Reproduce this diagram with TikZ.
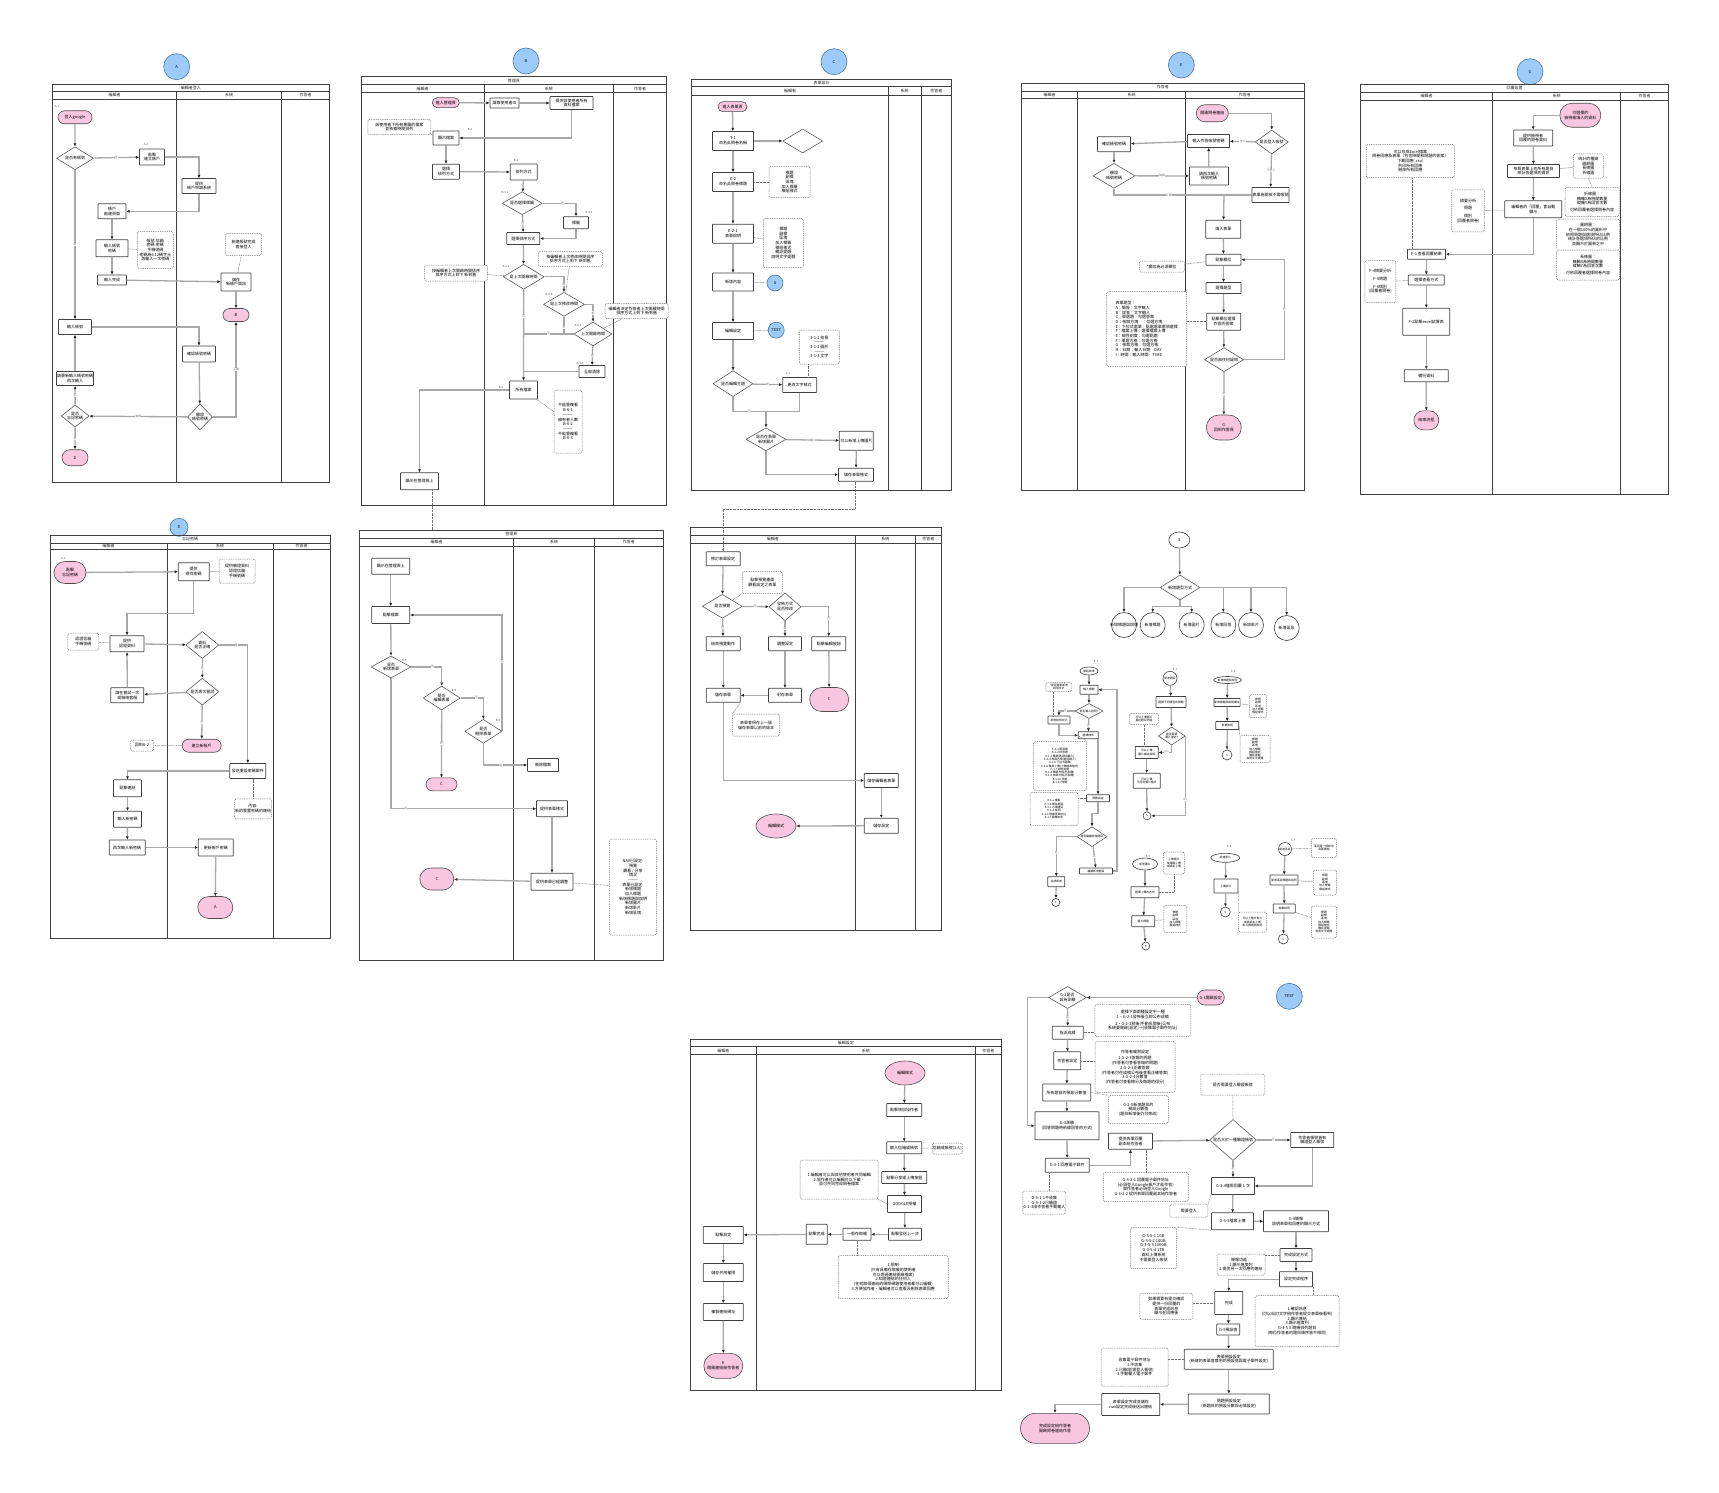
\documentclass[tikz,border=0pt]{standalone}
\usepackage{fontspec}
\setmainfont{Noto Sans CJK TC}
\usetikzlibrary{arrows.meta,shapes.geometric,shapes.misc}
\definecolor{cpink}{HTML}{F9C6DF}
\definecolor{cblue}{HTML}{9CCBFA}
\definecolor{cbluedk}{HTML}{4A78A8}
\definecolor{lgray}{HTML}{A8A8A8}
\newcommand\tinyf{\fontsize{4}{4.7}\selectfont}
\newcommand\microf{\fontsize{2.8}{3.3}\selectfont}
\newcommand\swimlane[9]{%
 \draw[lane] (#1,#2) rectangle (#3,#4);
 \draw[lane] (#1,#5) -- (#3,#5);
 \draw[lane] (#1,#6) -- (#3,#6);
 \draw[lane] (#7,#5) -- (#7,#4);
 \draw[lane] (#8,#5) -- (#8,#4);
 \path ({(#1+#3)/2},{(#2+#5)/2}) node[hdr] {#9};
 \path ({(#1+#7)/2},{(#5+#6)/2}) node[hdr] {編輯者};
 \path ({(#7+#8)/2},{(#5+#6)/2}) node[hdr] {系統};
 \path ({(#8+#3)/2},{(#5+#6)/2}) node[hdr] {作答者};
}
\begin{document}
\begin{tikzpicture}[x=1pt,y=-1pt,
 sz/.style 2 args={minimum width=#1, minimum height=#2},
 box/.style={rectangle, draw=black!75, line width=0.7pt, fill=white, align=center, inner sep=0.5pt, font=\tinyf, rounded corners=0.5pt},
 dia/.style={diamond, draw=black!65, line width=0.6pt, fill=white, align=center, inner sep=0pt, aspect=1.6, font=\tinyf},
 term/.style={rounded rectangle, draw=black!70, line width=0.6pt, fill=cpink, align=center, inner sep=0.5pt, font=\tinyf},
 pell/.style={ellipse, draw=black!70, line width=0.6pt, fill=cpink, align=center, inner sep=0pt, font=\tinyf},
 bc/.style={circle, draw=cbluedk, line width=0.6pt, fill=cblue, inner sep=0pt, minimum size=26, font=\tinyf},
 note/.style={rectangle, draw=black!55, line width=0.5pt, dash pattern=on 1pt off 0.8pt, rounded corners=1.5pt, fill=white, align=center, inner sep=0.5pt, font=\tinyf},
 wcirc/.style={circle, draw=black!75, line width=0.6pt, fill=white, inner sep=0pt, font=\tinyf},
 well/.style={ellipse, draw=black!75, line width=0.6pt, fill=white, inner sep=0pt, align=center, font=\tinyf},
 ln0/.style={draw=lgray, line width=1.3pt},
 ln/.style={ln0, -{Latex[length=3.2pt,width=3pt,color=black!85]}},
 dt/.style={draw=black!55, line width=0.5pt, dash pattern=on 0.7pt off 0.7pt},
 lane/.style={draw=black!75, line width=0.9pt},
 hdr/.style={font=\tinyf, text=black!85, inner sep=0},
 lb/.style={font=\microf, fill=white, inner sep=0.3pt, text=black!55},
 tg/.style={font=\microf, text=black!65, inner sep=0},
 mf/.style={font=\microf},
]
\fill[white] (0,0) rectangle (1719,1493);
\useasboundingbox (0,0) rectangle (1719,1493);

%% ================= Panel A =================
\node[bc] (cA) at (176.7,66.7) {A};
\swimlane{52.3}{84}{329.3}{482.7}{91.7}{99}{176.7}{281.7}{編輯者登入}
\node[tg] (tA1) at (57,106) {A-1};
\node[term, sz={35}{13}] (a1) at (75,117.3) {登入google};
\node[dia, sz={37}{23}] (a2) at (75,158.3) {是否有帳號};
\node[box, sz={25}{16}] (a3) at (152,157) {點擊\\建立帳戶};
\node[tg] (tA2) at (146,144) {A-2};
\node[box, sz={34}{15}] (a4) at (199,186) {提供\\帳戶申請系統};
\node[box, sz={28}{15}] (a5) at (112,211.3) {帳戶\\創建頁面};
\node[box, sz={32}{17}] (a6) at (112,248.3) {輸入帳號\\密碼};
\node[note, sz={36}{37}] (a6n) at (155.3,250) {帳號:信箱\\密碼:密碼\\手機號碼\\密碼為6~12碼字元\\再輸入一次密碼};
\node[box, sz={29}{10}] (a7) at (112,280) {輸入完成};
\node[box, sz={30}{18}] (a8) at (236,282) {儲存\\新帳戶資訊};
\node[note, sz={36}{22}] (a8n) at (243.5,244.5) {創建帳號完成\\直接登入};
\node[term, sz={27}{13}] (aB) at (236,315) {B};
\node[box, sz={33}{15}] (a9) at (75,327) {輸入帳號};
\node[box, sz={33}{16}] (a10) at (199,354) {確認帳號密碼};
\node[box, sz={37}{14}] (a11) at (75,378.5) {請重新輸入帳號密碼\\再次輸入};
\node[dia, aspect=1.3, sz={28}{22}] (a12) at (75.2,416) {是否\\忘記密碼};
\node[dia, aspect=1, sz={25}{26}] (a13) at (200,417) {驗證\\帳號密碼};
\node[term, sz={27}{16}] (aD) at (75,457.7) {D};
\draw[ln] (a1) -- (a2);
\draw[ln] (a2) -- node[lb]{否} (a3);
\draw[ln] (a3.east) -| (a4.north);
\draw[ln] (a4.south) |- (a5.east);
\draw[ln] (a5) -- (a6);
\draw[ln] (a6) -- (a7);
\draw[ln] (a7) -- (a8);
\draw[ln] (a8) -- (aB);
\draw[dt] (a6n) -- (a6);
\draw[dt] (a8n) -- (a8);
\draw[ln] (a2) -- node[lb]{是} (a9);
\draw[ln] (a9.east) -| (a10.north);
\draw[ln] (a10) -- (a13);
\draw[ln] (a13) -- node[lb]{錯誤} (a12);
\draw[ln] (a13.east) -| node[lb,pos=0.75]{正確} (aB.south);
\draw[ln] (a12) -- node[lb]{否} (a11);
\draw[ln] (a11) -- (a9);
\draw[ln] (a12) -- node[lb]{是} (aD);

%% ================= Panel B =================
\node[bc] (cB) at (526,61) {B};
\swimlane{361}{76.7}{666.7}{505}{84.3}{92.7}{484.3}{613.3}{管理頁}
\node[term, sz={28}{10}] (b1) at (445.8,102.7) {進入管理頁};
\node[box, sz={29}{10}] (b2) at (504.5,103) {讀取使用者ID};
\node[box, sz={43}{13}] (b3) at (571.5,103) {提供該使用者所有\\資料檔案};
\node[box, sz={26}{14}] (b4) at (446,138) {顯示檔案};
\node[tg] (tB4) at (470,129) {B-4};
\node[note, sz={63}{15}] (b4n) at (399.3,127) {該使用者下所有專屬的檔案\\並依據時間排列};
\node[box, sz={27}{15}] (b5) at (446,171.7) {選擇\\排列方式};
\node[box, sz={27}{16}] (b6) at (523.7,172) {排列方式};
\node[tg] (tB5) at (516,160) {B-5};
\node[dia, sz={40}{23}] (b7) at (522.2,203.3) {是否選擇標籤};
\node[tg] (tB51) at (505,192) {B-5-1};
\node[box, sz={25}{12}] (b8) at (576,222.7) {標籤};
\node[tg] (tB52) at (589,212) {B-5-2};
\node[box, sz={33}{12}] (b9) at (523.3,238.5) {選擇排序方式};
\node[dia, sz={41}{25}] (b10) at (523.7,276.8) {是上次開啟時間};
\node[tg] (tB61) at (506,266) {B-6-1};
\node[note, sz={63}{16}] (b10n) at (456,273) {按編輯者上次開啟時間排序\\排序方式上到下 新到舊};
\node[dia, sz={41}{24}] (b11) at (564,304.3) {是上次修改時間};
\node[tg] (tB62) at (549,294) {B-6-2};
\node[note, sz={64}{15}] (b11n) at (570.3,259) {按編輯者上次修改時間排序\\排序方式上到下 新到舊};
\node[dia, sz={38}{24}] (b12) at (593,334) {上次開啟時間};
\node[tg] (tB63) at (578,325) {B-6-3};
\node[note, sz={63}{15}] (b12n) at (636.7,311) {編輯者決定作答者上次開啟時間\\排序方式上到下 新到舊};
\node[box, sz={26}{12}] (b13) at (592,371.5) {全部清除};
\node[tg] (tB64) at (580,363) {B-6-4};
\node[box, sz={28}{18}] (b14) at (523.5,390) {所有檔案};
\node[tg] (tB6) at (501,387) {B-6};
\node[note, sz={28}{63}] (b14n) at (568,421.7) {不能重複看\\B-6-1\\———\\擁有者人數\\B-6-2\\———\\不能重複看\\B-6-3};
\node[box, sz={38}{17}] (b15) at (419.5,481.3) {顯示在管理頁上};
\coordinate (bj) at (523.5,334);
\draw[ln] (b1) -- (b2);
\draw[ln] (b2) -- (b3);
\draw[ln] (b3.south) |- (b4.east);
\draw[ln] (b4) -- (b5);
\draw[ln] (b5) -- (b6);
\draw[ln] (b6) -- (b7);
\draw[ln] (b7.east) -| node[lb,pos=0.3]{是} (b8.north);
\draw[ln] (b7) -- node[lb]{否} (b9);
\draw[ln] (b8.south) |- (b9.east);
\draw[ln] (b9) -- (b10);
\draw[ln] (b10.east) -| node[lb,pos=0.75]{是} (b11.north);
\draw[ln] (b11.east) -| node[lb,pos=0.75]{是} (b12.north);
\draw[ln] (b12) -- node[lb]{是} (b13);
\draw[ln] (b10) -- node[lb,pos=0.3]{否} (b14);
\draw[ln0] (b11.south) |- node[lb,pos=0.3]{否} (bj);
\draw[ln0] (b12.west) -- node[lb]{否} (bj);
\draw[ln0] (b13.west) -- (b13.west -| b14.north);
\draw[ln] (b14.west) -| (b15.north);
\draw[dt] (b4n) -- (b4);
\draw[dt] (b10n) -- (b10);
\draw[dt] (b11n) -- (b11);
\draw[dt] (b12n) -- (b12);
\draw[dt] (b14n) -- (b14);
\coordinate (bdn) at (432.7,530);
\draw[dt] (b15.south -| bdn) -- (bdn);

%% ================= Panel C =================
\node[bc] (cC) at (834,61.7) {C};
\swimlane{691.7}{79.3}{951.7}{490}{86}{95}{888.3}{921}{表單設計}
\node[term, sz={30}{10}] (c1) at (732.5,106.7) {進入表單頁};
\node[box, sz={41}{19}] (c2) at (733,141) {T-1\\命名此問卷名稱};
\node[dia, sz={40}{24}] (c2d) at (802.7,141) {};
\node[box, sz={41}{19}] (c3) at (733,182) {E-2\\命名此問卷標題};
\node[note, sz={41}{31}] (c3n) at (789.7,182) {標題\\副標\\區塊\\加入標籤\\模組樣式};
\node[box, sz={41}{19}] (c4) at (733,233.7) {E-2-1\\表單說明};
\node[note, sz={40}{49}] (c4n) at (783.3,243) {標題\\副標\\區塊\\加入標籤\\模組樣式\\備註提醒\\說明文字提醒};
\node[box, sz={41}{18}] (c5) at (733,282) {新增內容};
\node[bc, minimum size=16] (cS) at (775,283) {S};
\node[box, sz={41}{17}] (c6) at (733,331) {編輯設定};
\node[bc, minimum size=16] (cT) at (776.2,330.2) {TEST};
\node[note, sz={40}{34}] (c6n) at (819.3,347) {3-1-1 背景\\———\\3-1-2 圖形\\———\\3-1-3 文字};
\node[dia, sz={40}{26}] (c7) at (733,383.7) {是否編輯主題};
\node[box, sz={34}{15}] (c8) at (799.7,385) {更改文字樣式};
\node[tg] (tC31) at (788,373) {3-1};
\node[dia, sz={40}{23}] (c9) at (766,439.3) {是否在表單\\新增圖片};
\node[box, sz={34}{19}] (c10) at (856.3,440.7) {可以新增上傳圖片};
\node[box, sz={35}{13}] (c11) at (856,474.7) {儲存表單格式};
\coordinate (cj) at (766,411.7);
\draw[ln] (c1) -- (c2);
\draw[ln] (c2) -- (c2d);
\draw[ln] (c2) -- (c3);
\draw[ln] (c3) -- (c4);
\draw[ln] (c4) -- (c5);
\draw[ln] (c5) -- (c6);
\draw[ln] (c6) -- (c7);
\draw[dt] (c3n) -- (c3);
\draw[dt] (c4n) -- (c4);
\draw[dt] (cS) -- (c5);
\draw[dt] (cT) -- (c6);
\draw[dt] ([xshift=-11pt]c6n.south) -- ([xshift=-11pt]c6n.south |- c8.north);
\draw[ln] (c7) -- node[lb]{是} (c8);
\draw[ln0] (c7.south) |- node[lb,pos=0.75]{否} (cj);
\draw[ln0] (c8.south) |- (cj);
\draw[ln] (cj) -- (c9.north);
\draw[ln] (c9) -- node[lb]{是} (c10);
\draw[ln] (c10) -- (c11);
\draw[ln] (c9.south) |- (c11.west);

%% ================= Panel E =================
\node[bc] (cE) at (1181.3,65) {E};
\swimlane{1021.7}{83.3}{1304}{490.7}{91}{98.3}{1077.7}{1185.7}{作答者}
\node[term, sz={33}{17}] (e1) at (1212.3,113.3) {開啟問卷連結};
\node[dia, sz={33}{24}] (e2) at (1271.7,142) {是否登入帳號};
\node[box, sz={42}{13}] (e3) at (1208.5,141) {輸入作答帳號密碼};
\node[box, sz={33}{15}] (e4) at (1114,144.2) {確認帳號密碼};
\node[dia, sz={42}{25}] (e5) at (1114,175.8) {驗證\\帳號密碼};
\node[box, sz={39}{18}] (e6) at (1209,176) {請再次輸入\\帳號密碼};
\node[box, sz={36}{15}] (e7) at (1270.5,195) {表單為開放不需帳號};
\node[box, sz={35}{18}] (e8) at (1223.3,229.2) {填入表單};
\node[box, sz={35}{11}] (e9) at (1223.5,259.7) {點擊欄位};
\node[note, sz={45}{11}] (e9n) at (1161.8,266.7) {*欄位為必須欄位};
\node[box, sz={35}{11}] (e10) at (1223.5,288) {選擇題型};
\node[note, sz={80}{75}, align=left] (e10n) at (1146.7,329) {表單題型：\\A：簡答：文字輸入\\B：詳答：文字輸入\\C：單選題：勾選答案\\D：核取方塊　：勾選方塊\\E：下拉式選單：點選選單選項選擇\\F：檔案上傳：選擇檔案上傳\\E：線性刻度：勾選點選\\F：單選方格：勾選方格\\G：核取方格：勾選方格\\H：日期：輸入日期　DAY\\I：時間：輸入時間　TIME};
\node[box, sz={34}{17}] (e11) at (1223.7,321.7) {點擊欄位選擇\\作答的答案};
\node[dia, sz={39}{24}] (e12) at (1224,359.7) {是否無任何疑問};
\node[term, sz={36}{25}] (e13) at (1223.8,427.5) {G\\回到作答頁};
\coordinate (ej) at (1224,195);
\draw[ln] (e1.east) -| (e2.north);
\draw[ln] (e2) -- node[lb]{登入} (e3);
\draw[ln] (e3) -- (e4);
\draw[ln] (e4) -- (e5);
\draw[ln] (e5) -- node[lb]{錯誤} (e6);
\draw[ln] (e6) -- (e3);
\draw[ln] (e2) -- node[lb]{不登入} (e7);
\draw[ln0] (e5.south) |- node[lb,pos=0.75]{正確} (ej);
\draw[ln0] (e7.west) -- (ej);
\draw[ln] (ej) -- (e8);
\draw[ln] (e8) -- (e9);
\draw[ln] (e9) -- (e10);
\draw[ln] (e10) -- (e11);
\draw[ln] (e11) -- (e12);
\draw[ln] (e12) -- node[lb]{是} (e13);
\draw[ln] (e12.east) -- ++(40.5,0) |- node[lb,pos=0.25]{否} (e9.east);
\draw[dt] (e9n) -- (e9);
\draw[dt] (e10n.east |- e11.west) -- (e11.west);

%% ================= Panel G =================
\node[bc] (cG) at (1530,71.7) {G};
\swimlane{1360.7}{84.3}{1668.3}{494.3}{92}{100.7}{1492.3}{1620.7}{回覆設置}
\node[term, sz={42}{24}] (g1) at (1580.3,115.3) {可選擇的\\檢視者填入的資料};
\node[box, sz={39}{16}] (g2) at (1533.2,138) {提供檢視者\\回覆的問卷資料};
\node[box, sz={52}{13}] (g3) at (1533.5,171) {依照表單上的所有題目\\統計各選項的資訊};
\node[note, sz={30}{24}] (g3n) at (1588.3,166) {統計的種類\\圓餅圖\\長條圖\\折線圖};
\node[box, sz={57}{17}] (g4) at (1533.3,209.3) {編輯者的「回覆」會自動\\顯示};
\node[note, sz={33}{42}] (g4n) at (1468,210.8) {摘要分析\\[3pt]問題\\[3pt]個別\\(回覆者問卷)};
\node[note, sz={54}{29}] (g4r1) at (1592.2,202) {折線圖：\\橫軸X為時間數量\\縱軸Y為回答次數\\[2pt]可依回覆者選擇問卷內容};
\node[note, sz={63}{31}] (g4r2) at (1588,234.7) {圓餅圖：\\在一個100\%的圓形中\\依照問題與選項所佔比例\\統計各選項所佔的比例\\並顯示於圖表之中};
\node[note, sz={63}{30}] (g4r3) at (1588,265) {長條圖：\\橫軸X為時間數量\\縱軸Y為回答次數\\[2pt]可依回覆者選擇問卷內容};
\node[note, sz={88}{33}] (gtl) at (1410.3,161) {可以存成Excel檔案\\問卷回應及表單（包含時間和問題的答案）\\下載回應(.csv)\\列印所有回應\\刪除所有回應};
\node[box, sz={38}{10}] (g5) at (1426.5,254.2) {F-1 查看回覆結果};
\node[box, sz={36}{10}] (g6) at (1426.3,280) {選擇查看方式};
\node[note, sz={31}{42}] (g6n) at (1380.3,281.5) {F-4摘要分析\\[3pt]F-5問題\\[3pt]F-6個別\\(回覆者問卷)};
\node[box, sz={47}{27}] (g7) at (1426.3,321.7) {F-2點擊excel試算表};
\node[box, sz={44}{12}] (g8) at (1426.3,375.8) {備份資料};
\node[term, sz={26}{19}] (g9) at (1426.3,420.3) {結束流程};
\draw[ln] (g1.west) -| (g2.north);
\draw[ln] (g2) -- (g3);
\draw[ln] (g3) -- (g4);
\draw[ln] (g4.south) |- (g5.east);
\draw[ln] (g5) -- (g6);
\draw[ln] (g6) -- (g7);
\draw[ln] (g7) -- (g8);
\draw[ln] (g8) -- (g9);
\draw[dt] (g3n) -- (g3);
\draw[dt] (g4n) -- (g4);
\draw[dt] (g3n.south) -- (g4r1.north);
\draw[dt] (g6n) -- (g6);
\draw[dt] ([xshift=-14pt]g5.north) -- ([xshift=-14pt]g5.north |- gtl.south);

%% ================= Panel D =================
\node[bc, minimum size=18] (cD) at (179,527.3) {D};
\swimlane{50}{535.7}{330}{938.3}{543}{549.3}{167}{273.3}{忘記密碼}
\node[tg] (tA3) at (63.3,558.3) {A-3};
\node[term, sz={33}{22}] (d1) at (70,572.5) {點擊\\忘記密碼};
\node[box, sz={31}{18}] (d2) at (193.7,571.7) {提供\\尋找密碼};
\node[note, sz={36}{24}] (d2n) at (237,571) {提供驗證資料\\認證信箱\\手機號碼};
\node[box, sz={34}{16}] (d3) at (127,643.7) {提供\\認證資料};
\node[note, sz={31}{17}] (d3n) at (83.3,641.7) {認證信箱\\手機號碼};
\node[dia, aspect=1.2, sz={33}{27}] (d4) at (202.3,645) {資料\\是否正確};
\node[dia, sz={33}{27}] (d5) at (202.3,691.7) {是否再次嘗試};
\node[box, sz={33}{15}] (d6) at (127.3,695.2) {請在嘗試一次\\或聯絡客服};
\node[term, sz={40}{13}] (d7) at (201.7,745.7) {建立新帳戶};
\node[note, sz={23}{11}] (d7n) at (142,745.5) {回到A-2};
\node[box, sz={36}{15}] (d8) at (247.8,771) {發送重設密碼郵件};
\node[note, sz={34}{20}] (d8n) at (253,808.8) {內容:\\新的重置密碼的連結};
\node[box, sz={28}{17}] (d9) at (127.5,788.3) {點擊連結};
\node[box, sz={28}{16}] (d10) at (127.5,819.2) {輸入新密碼};
\node[box, sz={36}{15}] (d11) at (127.2,847.5) {再次輸入新密碼};
\node[box, sz={35}{17}] (d12) at (215.8,847.5) {更新帳戶密碼};
\node[term, sz={36}{22}] (d13) at (215.3,907.5) {A};
\draw[ln] (d1) -- (d2);
\draw[ln] (d2.south) -- ++(0,32.6) -| (d3.north);
\draw[ln] (d3) -- (d4);
\draw[ln] (d4) -- node[lb]{否} (d5);
\draw[ln] (d4.east) -| node[lb,pos=0.3]{是} (d8.north);
\draw[ln] (d5) -- node[lb]{是} (d6);
\draw[ln] (d6) -- (d3);
\draw[ln] (d5) -- node[lb]{否} (d7);
\draw[ln] (d8.west) -| (d9.north);
\draw[ln] (d9) -- (d10);
\draw[ln] (d10) -- (d11);
\draw[ln] (d11) -- (d12);
\draw[ln] (d12) -- (d13);
\draw[dt] (d2n) -- (d2);
\draw[dt] (d3n) -- (d3);
\draw[dt] (d7n) -- (d7);
\draw[dt] (d8n.north) -- (d8n.north |- d8.south);

%% ================= Panel B2 =================
\swimlane{359.3}{530}{663.3}{960}{538.3}{546}{513.7}{594.3}{管理頁}
\node[box, sz={38}{16}] (f1) at (390.8,566.2) {顯示在管理頁上};
\node[box, sz={38}{17}] (f2) at (390.8,615) {點擊檔案};
\node[dia, sz={40}{22}] (f3) at (391,667) {是否\\新增表單};
\node[tg] (tB7) at (404.3,660) {B-7};
\node[dia, sz={37}{24}] (f4) at (441.7,698) {是否\\編輯表單};
\node[tg] (tB8) at (454,690.7) {B-8};
\node[dia, sz={37}{24}] (f5) at (483.3,731.3) {是否\\刪除表單};
\node[tg] (tB9) at (498,720) {B-9};
\node[term, sz={32}{13}] (f6) at (441.5,784.3) {C};
\node[box, sz={31}{13}] (f7) at (543,765) {刪除檔案};
\node[box, sz={31}{16}] (f8) at (552,808.7) {提供表單樣式};
\node[box, sz={42}{17}] (f9) at (552,881.7) {提供表單已經調整};
\node[term, sz={35}{22}] (f10) at (436.8,879) {C};
\node[note, sz={47}{96}] (f9n) at (633,887) {NAV已設定:\\預覽\\觀看 / 分享\\情況\\———\\表單已設定:\\新增標題\\加入標題\\新增標題與說明\\新增圖片\\新增影片\\新增區塊};
\draw[ln] (f1) -- (f2);
\draw[ln] (f2) -- (f3);
\draw[ln] (f3.east) -| node[lb,pos=0.35]{否} (f4.north);
\draw[ln] (f4.east) -| node[lb,pos=0.35]{否} (f5.north);
\draw[ln] (f5.east) |- node[lb,pos=0.3]{否} (f2.east);
\draw[ln] (f4) -- node[lb]{是} (f6);
\draw[ln] (f5.south) |- node[lb,pos=0.7]{是} (f7.west);
\draw[ln] (f3.south) |- node[lb,pos=0.55]{是} (f8.west);
\draw[ln] (f8) -- (f9);
\draw[ln] (f9) -- (f10);
\draw[dt] (f9n) -- (f9);

%% ================= Panel C2 =================
\swimlane{690}{527.7}{941.7}{930}{535}{543.3}{855.7}{915}{}
\node[box, sz={34}{14}] (k1) at (723.2,558.8) {修訂表單設定};
\node[note, sz={40}{22}] (k1n) at (762.3,582.5) {點擊預覽畫面\\觀看設定之表單};
\node[dia, sz={40}{24}] (k2) at (722.3,606.3) {是否預覽};
\node[dia, aspect=1.1, sz={32}{28}] (k3) at (785,606.8) {發佈方式\\是否修改};
\node[box, sz={34}{14}] (k4) at (723.2,643.7) {結束預覽動作};
\node[box, sz={33}{14}] (k5) at (785,643.7) {調整設定};
\node[box, sz={34}{14}] (k6) at (828.8,643.7) {點擊編輯按鈕};
\node[term, sz={40}{24}] (k7) at (829.2,699.5) {C};
\node[box, sz={34}{14}] (k8) at (723.2,695.3) {儲存表單};
\node[box, sz={33}{14}] (k9) at (785,695.3) {封存表單};
\node[note, sz={47}{22}] (k8n) at (756,725.2) {表單會保存上一版\\儲存表單以前的版本};
\node[box, sz={34}{14}] (k10) at (881.3,780.5) {儲存編輯者表單};
\node[box, sz={34}{15}] (k11) at (881.3,825.8) {儲存設定};
\node[pell, sz={40}{24}] (k12) at (776,826) {編輯模式};
\coordinate (cd1) at (855.7,509);
\coordinate (cd2) at (723.2,509);
\draw[dt, -{Latex[length=2.5pt,width=2.5pt]}] (c11.south -| cd1) -- (cd1) -- (cd2) -- (k1.north);
\draw[ln] (k1) -- (k2);
\draw[ln] (k2) -- node[lb]{否} (k3);
\draw[ln] (k2) -- node[lb]{是} (k4);
\draw[ln] (k3) -- node[lb]{是} (k5);
\draw[ln] (k3.east) -| node[lb,pos=0.7]{否} (k6.north);
\draw[ln] (k6) -- (k7);
\draw[ln] (k4) -- (k8);
\draw[ln] (k5) -- (k9);
\draw[ln] (k9) -- (k8);
\draw[ln] (k8.south) |- (k10.west);
\draw[ln] (k10) -- (k11);
\draw[ln] (k11) -- (k12);
\draw[dt] (k1n.south west) -- (k2.north east);
\draw[dt] (k8n.north west) -- (k8.south east);

%% ================= Tree S =================
\node[well, sz={21}{16}] (s0) at (1179.3,540) {S};
\node[dia, sz={40}{25}] (s1) at (1180,587.5) {新增題型方式};
\node[wcirc, minimum size=25, label={[font=\tinyf]center:新增標題與說明}] (sc1) at (1124,625) {};
\node[wcirc, minimum size=25, label={[font=\tinyf]center:新增標題}] (sc2) at (1152.7,625) {};
\node[wcirc, minimum size=25, label={[font=\tinyf]center:新增圖片}] (sc3) at (1191.7,625) {};
\node[wcirc, minimum size=25, label={[font=\tinyf]center:新增段落}] (sc4) at (1223.3,625) {};
\node[wcirc, minimum size=25, label={[font=\tinyf]center:新增影片}] (sc5) at (1251,625) {};
\node[wcirc, minimum size=25, label={[font=\tinyf]center:新增區段}] (sc6) at (1286.7,628) {};
\coordinate (sj) at (1180,606.7);
\draw[ln] (s0) -- (s1);
\draw[ln] (s1.west) -| (sc1.north);
\draw[ln0] (s1.south) -- (sj);
\draw[ln] (sj) -| (sc2.north);
\draw[ln] (sj) -| (sc3.north);
\draw[ln] (s1.east) -| (sc4.north);
\draw[ln] (s1.east) -| (sc5.north);
\draw[ln] (s1.east) -| (sc6.north);

%% E-1
\node[tg] (tE1) at (1096,661) {E-1};
\node[well, mf, sz={18}{8}] (h1) at (1089,671) {開始新增};
\node[box, mf, sz={18}{9}] (h2) at (1089,689.7) {輸入標題};
\node[note, mf, sz={26}{9}] (h2n) at (1058.8,687) {*是否需要新增\\說明文字};
\node[dia, mf, sz={28}{15}] (h3) at (1089,711) {是否輸入說明?};
\node[box, mf, sz={22}{8}] (h4) at (1059,720) {新增說明文字};
\node[box, mf, sz={20}{7}] (h5) at (1088.3,735.3) {選擇樣式};
\node[note, mf, sz={53}{49}] (h5n) at (1060,766) {E-1-1 簡答題\\E-1-2 詳答題\\E-1-3 單選題(選項輸入)\\E-1-4 核取方塊(選項輸入)\\E-1-5 下拉式選單\\E-1-6 檔案上傳(上傳檔案格式)\\E-1-7 線性刻度\\E-1-8 單選方格(列與欄)\\E-1-9 核取方格(列與欄)\\E-1-10 日期\\E-1-11 時間};
\node[note, mf, sz={48}{33}] (h6n) at (1054,809) {E-1-a 複製\\E-1-b 刪除題目\\E-1-c 必填題目\\E-1-d 說明\\E-1-e 根據答案前往\\E-1-f 隨機排序};
\node[box, mf, sz={23}{7}] (h7) at (1098,798.3) {預覽設定};
\node[dia, mf, sz={30}{20}] (h8) at (1092,836.7) {是否繼續新增題目};
\node[box, mf, sz={17}{10}] (h9) at (1056.3,881.7) {完成新增};
\node[wcirc, mf, minimum size=8] (h10) at (1055.8,902.5) {S};
\node[box, mf, sz={33}{6}] (h11) at (1096,871) {繼續新增題目};
\draw[ln] (h1) -- (h2);
\draw[ln] (h2) -- (h3);
\draw[ln] (h3.west) -| node[lb,pos=0.3]{否} (h4.north);
\draw[ln] (h3) -- node[lb]{是} (h5);
\draw[ln] (h4.south) |- (h5.west);
\draw[ln] (h7.north |- h5.south) -- (h7.north);
\draw[ln] (h7.south) -- ++(0,11.5) -| (h8.north);
\draw[ln] (h8.west) -| node[lb,pos=0.7]{是} (h9.north);
\draw[ln] (h8) -- node[lb]{否} (h11);
\draw[ln] (h9) -- (h10);
\draw[ln] (h11.east) -- ++(4.2,0) |- (h2.east);
\draw[dt] ([xshift=-6pt]h2n.south) -- ([xshift=-6pt]h2n.south |- h4.north);
\draw[dt] (h5n.north east) -- (h5.west);
\draw[dt] (h6n.east |- h7.west) -- (h7.west);

%% E-3
\node[tg] (tE3) at (1175,669) {E-3};
\node[wcirc, mf, minimum size=14] (i1) at (1170,678.3) {新增題目};
\node[box, mf, sz={30}{11}] (i2) at (1171,702) {選擇不同題型的問題};
\node[dia, mf, aspect=1.5, sz={27}{18}] (i3) at (1171.7,736) {是否需要\\圖片描述?};
\node[note, mf, sz={29}{11}] (i3n) at (1144,719) {可以上傳圖片\\描述題目內容};
\node[box, mf, sz={23}{12}] (i4) at (1146.7,752.5) {可以上傳\\圖片描述說明};
\node[box, mf, sz={27}{15}] (i5) at (1146.7,780.8) {可以上傳\\不同的圖片格式};
\node[wcirc, mf, minimum size=8] (i6) at (1147,815.8) {S};
\draw[ln] (i1) -- (i2);
\draw[ln] (i2) -- (i3);
\draw[ln] (i3.south) |- node[lb,pos=0.7]{yes} (i4.east);
\draw[ln] (i4) -- (i5);
\draw[ln] (i5) -- (i6);
\draw[ln] (i3.east) |- node[lb,pos=0.4]{NO} (i6.east);
\draw[dt] (i3n.south) -- (i3n.south |- i4.north);

%% E-4
\node[tg] (tE4) at (1233.3,671.7) {E-4};
\node[well, mf, sz={25}{7}] (j1) at (1227.5,680) {新增標題與說明};
\node[box, mf, sz={26}{8}] (j2) at (1227,702.5) {新增標題與說明欄位};
\node[note, mf, sz={17}{23}] (j2n) at (1258,706) {標題\\副標\\區塊\\加入標籤\\模組樣式};
\node[box, mf, sz={23}{8}] (j3) at (1227.3,725.5) {表單說明};
\node[note, mf, sz={30}{27}] (j3n) at (1255,749) {標題\\副標\\區塊\\加入標籤\\模組樣式\\備註提醒\\說明文字提醒};
\node[wcirc, mf, minimum size=10] (j4) at (1227,755) {S};
\draw[ln] (j1) -- (j2);
\draw[ln] (j2) -- (j3);
\draw[ln] (j3) -- (j4);
\draw[dt] (j2n) -- (j2);
\draw[dt] (j3n.north west) -- (j3.east);

%% E-5
\node[tg] (tE5) at (1148,856.7) {E-5};
\node[well, mf, sz={25}{12}] (m1) at (1145,864) {新增圖片};
\node[note, mf, sz={21}{22}] (m1n) at (1174,863) {上傳圖片\\從電腦上傳\\或網址上傳};
\node[box, mf, sz={28}{11}] (m2) at (1145,892.2) {選擇上傳的方式};
\node[box, mf, sz={23}{11}] (m3) at (1143.3,921.3) {圖片標題};
\node[note, mf, sz={23}{27}] (m3n) at (1175.3,919) {標題\\副標\\區塊\\加入標籤\\模組樣式};
\node[wcirc, mf, minimum size=8] (m4) at (1145.8,946) {S};
\draw[ln] (m1) -- (m2);
\draw[ln] (m2) -- (m3);
\draw[ln] (m3) -- (m4);
\draw[dt] (m1n.south) |- (m2.east);
\draw[dt] (m3n) -- (m3);

%% E-6
\node[tg] (tE6) at (1229.3,846.7) {E-6};
\node[well, mf, sz={29}{9}] (n1) at (1225.3,857.8) {新增影片};
\node[box, mf, sz={24}{14}] (n2) at (1226,886) {上傳影片};
\node[wcirc, mf, minimum size=10] (n3) at (1225.3,912) {S};
\node[note, mf, sz={28}{20}] (n3n) at (1252.5,922) {可以上傳YT影片\\或從網址上傳\\影片標題與說明};
\draw[ln] (n1) -- (n2);
\draw[ln] (n2) -- (n3);
\draw[dt] (n2.south east) -- (n3n.north west);

%% E-7
\node[tg] (tE7) at (1293.3,840) {E-7};
\node[wcirc, mf, minimum size=13] (o1) at (1285,849) {新增區段};
\node[note, mf, sz={25}{19}] (o1n) at (1324,848) {區段是一個新的\\頁面開始};
\node[box, mf, sz={28}{10}] (o2) at (1284,880) {新增區段標題與說明};
\node[note, mf, sz={23}{25}] (o2n) at (1325,882.5) {標題\\副標\\區塊\\加入標籤\\模組樣式};
\node[box, mf, sz={22}{9}] (o3) at (1284.2,908.5) {表單說明};
\node[note, mf, sz={25}{32}] (o3n) at (1324,922) {標題\\副標\\區塊\\加入標籤\\模組樣式\\備註提醒\\說明文字提醒};
\node[wcirc, mf, minimum size=10] (o4) at (1283.3,939) {S};
\draw[ln] (o1) -- (o2);
\draw[ln] (o2) -- (o3);
\draw[ln] (o3) -- (o4);
\draw[dt] (o1) -- (o1n);
\draw[dt] (o2) -- (o2n);
\draw[dt] (o3) -- (o3n);

%% ================= Bottom middle panel =================
\swimlane{690}{1039}{1001.7}{1390}{1046.7}{1054.3}{756.7}{975}{編輯設定}
\node[pell, sz={40}{24}] (p1) at (905,1073) {編輯模式};
\node[box, sz={35}{13}] (p2) at (904.2,1110) {點擊增加協作者};
\node[box, sz={35}{12}] (p3) at (904.2,1147.8) {輸入信箱或帳號};
\node[note, sz={30}{11}] (p3n) at (947.3,1148.5) {信箱或帳號(1人)};
\node[box, sz={45}{12}] (p4) at (904.3,1177.5) {點擊分享或上傳按鈕};
\node[note, sz={78}{39}] (p4n) at (839.2,1179.5) {1.編輯者可以與其他使用者共同編輯\\2.協作者可以編輯可以下載、\\並可共同完成問卷檔案};
\node[box, sz={34}{17}] (p5) at (904.5,1204) {GOOGLE授權};
\node[box, sz={33}{12}] (p6) at (905,1234.3) {點擊發送上一步};
\node[box, sz={28}{12}] (p7) at (857,1234.3) {一般存取權};
\node[box, sz={21}{20}] (p8) at (816.7,1234.3) {點擊完成};
\node[box, sz={40}{17}] (p9) at (723.3,1235) {點擊設定};
\node[note, sz={110}{43}] (p7n) at (893.3,1277) {1.限制\\(只有具備存取權的使用者\\可以透過連結開啟檔案)\\2.知道連結的任何人\\(任何取得連結的網際網路使用者都可以編輯)\\3.方便協作者，編輯者可以查看及刪除表單回應};
\node[box, sz={40}{18}] (p10) at (723.3,1272.5) {儲存共用權限};
\node[box, sz={40}{17}] (p11) at (723.3,1312) {複製連結網址};
\node[term, sz={40}{25}] (p12) at (723.3,1365.8) {E\\開啟連結給作答者};
\draw[ln] (p1) -- (p2);
\draw[ln] (p2) -- (p3);
\draw[ln] (p3) -- (p4);
\draw[ln] (p4) -- (p5);
\draw[ln] (p5) -- (p6);
\draw[ln] (p6) -- (p7);
\draw[ln] (p7) -- (p8);
\draw[ln] (p8) -- (p9);
\draw[ln] (p9) -- (p10);
\draw[ln] (p10) -- (p11);
\draw[ln] (p11) -- (p12);
\draw[dt] (p3n) -- (p3);
\draw[dt] (p4n.south east) -- (p5.west);
\draw[dt] (p7.south) -- (p7.south |- p7n.north);

%% ================= Bottom right =================
\node[dia, sz={38}{22}] (q1) at (1067.5,997.5) {G-2是否\\設為測驗};
\node[term, sz={28}{15}] (q0) at (1210.8,997.5) {G-1開啟設定};
\node[bc] (qT) at (1289.3,996.3) {TEST};
\node[box, sz={31}{13}] (q2) at (1067.7,1032.7) {指派成績};
\node[note, sz={96}{32}] (q2n) at (1142.8,1020.5) {選擇下面兩種設定中一種\\1、G-2-1發佈後立即公布成績\\[2pt]2、G-2-2稍後(手動批閱後)公布\\系統要開啟[設定]→[收集電子郵件地址]};
\node[box, sz={27}{18}] (q3) at (1067.3,1060.8) {作答者設定};
\node[note, sz={80}{51}] (q3n) at (1135,1067) {作答者權限設定\\[2pt]1.G-2-3答錯的問題\\(作答者可查看答錯的問題)\\2.G-2-3正確答案\\(作答者可在成績公布後查看正確答案)\\3.G-2-4分數值\\(作答者可查看總分及每題的得分)};
\node[box, sz={48}{17}] (q4) at (1066.7,1092.5) {所有題目的預設分數值};
\node[note, sz={60}{28}] (q4n) at (1138.3,1109.5) {G-2-5新增題目的\\預設分數值\\(題目新增後仍可修改)};
\node[box, sz={64}{28}] (q5) at (1067,1125.8) {G-3測驗\\(回答問題時依據回答的方式)};
\node[box, sz={44}{14}] (q6) at (1067.2,1165.3) {G-3-1 回應電子郵件};
\node[note, sz={43}{23}] (q6n) at (1044.3,1202.5) {G-3-1-1不收集\\G-3-1-2已驗證\\G-1-3由作答者手動輸入};
\node[box, sz={44}{16}] (q7) at (1130.5,1141.2) {提供表單回覆\\副本給作答者};
\node[note, sz={85}{29}] (q7n) at (1145.8,1187) {G-3-2-1 回覆電子郵件地址\\(必須登入Google帳戶才能作答)\\需作答者必須登入Google\\G-3-2-2 提供表單回覆副本給作答者};
\node[dia, sz={47}{41}] (q8) at (1233,1140) {是否大於一種驗證帳號};
\node[note, sz={64}{21}] (q8n) at (1232.8,1084.7) {是否需要登入驗證帳號};
\node[box, sz={43}{15}] (q9) at (1312.3,1140) {作答者帳號皆有\\驗證登入帳號};
\node[box, sz={43}{17}] (q10) at (1233,1186) {G-3-4僅限回覆 1 次};
\node[note, sz={38}{13}] (q10n) at (1188.8,1210.7) {需要登入};
\node[box, sz={42}{17}] (q11) at (1232.5,1221.3) {G-3-5檔案上傳};
\node[note, sz={46}{41}] (q11n) at (1153.5,1248) {G-3-5-1 1GB\\G-3-5-2 10GB\\G-3-5-3 100GB\\G-3-5-4 1TB\\資料上傳系統\\不需要登入帳號};
\node[box, sz={65}{21}] (q12) at (1296,1221.2) {G-4簡報\\說明表單和回應的顯示方式};
\node[box, sz={32}{13}] (q13) at (1296,1255) {完成設定方式};
\node[note, sz={48}{21}] (q13n) at (1241,1264.5) {簡報功能：\\1.顯示進度列\\2.提供另一次回應的連結};
\node[box, sz={33}{15}] (q14) at (1296,1279.2) {設定完成程序};
\node[box, sz={28}{23}] (q15) at (1228.8,1303) {完成};
\node[note, sz={53}{26}] (q15n) at (1166.3,1306.3) {如果需要有提交確認\\提供一份回覆的\\表單完成訊息\\顯示在回應後};
\node[note, sz={84}{51}] (q14n) at (1297.2,1321.2) {1.確認訊息\\(可以自訂文字給作答者提交表單後看到)\\2.顯示連結\\3.顯示進度列\\G-4-5 3.隨機排列題目\\(每位作答者的題目順序皆不相同)};
\node[box, sz={23}{11}] (q16) at (1228.3,1329.5) {G-5預設值};
\node[box, sz={89}{20}] (q17) at (1228.8,1359.3) {表單預設設定\\(新建的表單會套用的預設值與電子郵件設定)};
\node[note, sz={67}{38}] (q17n) at (1134.7,1367.2) {收集電子郵件地址\\1.不收集\\2.已驗證(需登入帳號)\\3.手動輸入電子郵件};
\node[box, sz={81}{20}] (q18) at (1228.8,1404) {問題預設設定\\(新題目的預設分數與必填設定)};
\node[box, sz={58}{22}] (q19) at (1130.8,1404.5) {表單設定完成並儲存\\nav設定完成後送出連結};
\node[term, sz={70}{30}] (q20) at (1055,1428.3) {完成設定給作答者\\開啟問卷連結作答};
\draw[ln] (q0) -- (q1);
\draw[ln] (q1) -- node[lb]{是} (q2);
\draw[ln] (q1.west) -- ++(-21,0) |- (q5.west);
\draw[ln] (q2) -- (q3);
\draw[ln] (q3) -- (q4);
\draw[ln] (q4) -- (q5);
\draw[ln] (q5) -- (q6);
\draw[ln] (q6.east) -| (q7.south);
\draw[ln] (q7) -- (q8);
\draw[ln] (q8) -- node[lb]{否} (q9);
\draw[ln] (q8) -- node[lb]{是} (q10);
\draw[ln] (q9.south) |- (q10.east);
\draw[ln] (q10) -- (q11);
\draw[ln] (q11) -- (q12);
\draw[ln] (q12) -- (q13);
\draw[ln] (q13) -- (q14);
\draw[ln] (q14.west) -| (q15.north);
\draw[ln] (q15) -- (q16);
\draw[ln] (q16) -- (q17);
\draw[ln] (q17) -- (q18);
\draw[ln] (q18) -- (q19);
\draw[ln] (q19.west) -| (q20.north);
\draw[dt] (q2.east) -- (q2.east -| q2n.west);
\draw[dt] (q3.east) -- (q3.east -| q3n.west);
\draw[dt] (q4.east) -- (q4n.north west);
\draw[dt] ([xshift=5pt]q6n.north) -- ([xshift=5pt]q6n.north |- q6.south);
\draw[dt] ([xshift=16pt]q7.south) -- ([xshift=16pt]q7.south |- q7n.north);
\draw[dt] (q8n.south) -- (q8.north);
\draw[dt] (q10n.north east) -- (q10.south west);
\draw[dt] (q11n.north east) -- (q11.south west);
\draw[dt] (q13.west) -- (q13.west -| q13n.east);
\draw[dt] (q15.west) -- (q15.west -| q15n.east);
\draw[dt] (q14.south east) -- (q14.south east |- q14n.north);
\draw[dt] (q17.west) -- (q17.west -| q17n.east);
\end{tikzpicture}
\end{document}
